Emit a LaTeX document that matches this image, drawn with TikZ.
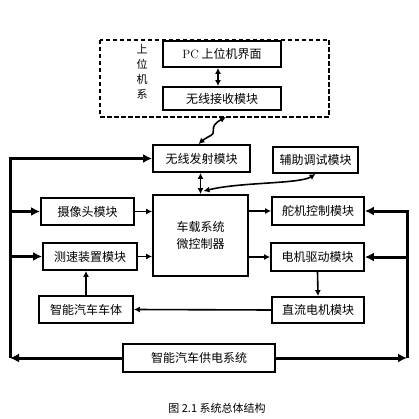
\documentclass[tikz,border=0pt]{standalone}
\usepackage{fontspec}
\newfontfamily\cjk{Noto Sans CJK SC}
\usetikzlibrary{arrows.meta}
\tikzset{
  box/.style={draw,line width=1.8pt,inner sep=0pt,font=\cjk\fontsize{12}{14}\selectfont},
  sig/.style={line width=1.6pt,-{Latex[length=6pt,width=6pt]}},
  sigboth/.style={line width=1.6pt,{Latex[length=6pt,width=6pt]}-{Latex[length=6pt,width=6pt]}},
  powarrow/.style={line width=3pt,-{Latex[length=9pt,width=9pt]}}
}
\begin{document}
\begin{tikzpicture}[x=1pt,y=-1pt]
  \useasboundingbox (0,0) rectangle (418,419);
  \draw[line width=1.8pt,dash pattern=on 4.5pt off 2.5pt] (100,40) rectangle (329,117);
  \node[font=\cjk\fontsize{11}{15}\selectfont,align=center] (hostname) at (142,72) {上\\位\\机\\系};
  \node[box,minimum width=118,minimum height=26] (pc) at (222,54) {{\rmfamily PC} 上位机界面};
  \node[box,minimum width=118,minimum height=23] (rx) at (222,98.5) {无线接收模块};
  \node[box,minimum width=97,minimum height=27] (tx) at (201.5,158.5) {无线发射模块};
  \node[box,minimum width=85,minimum height=26] (aux) at (315.5,160) {辅助调试模块};
  \node[box,minimum width=95,minimum height=81,align=center] (mcu) at (200.5,235.5) {车载系统\\[3pt]微控制器};
  \node[box,minimum width=93,minimum height=27] (cam) at (87.5,211.5) {摄像头模块};
  \node[box,minimum width=94,minimum height=27] (speed) at (90,256.5) {测速装置模块};
  \node[box,minimum width=94,minimum height=27] (body) at (86,309.5) {智能汽车车体};
  \node[box,minimum width=92,minimum height=28] (servo) at (318,211) {舵机控制模块};
  \node[box,minimum width=93,minimum height=28] (drive) at (317.5,257) {电机驱动模块};
  \node[box,minimum width=92,minimum height=26] (motor) at (318,310) {直流电机模块};
  \node[box,minimum width=152,minimum height=28] (power) at (199,358) {智能汽车供电系统};
  \node[font=\cjk\fontsize{11}{12}\selectfont] (caption) at (217,408) {图 2.1 系统总体结构};
  \coordinate (hostlink) at (226,117);
  \coordinate (lbot) at (10,358);
  \coordinate (rbot) at (407,358);
  \draw[sigboth] ([xshift=-4pt]pc.south) -- ([xshift=-4pt]rx.north);
  \draw[sigboth] (hostlink) .. controls (206,128) and (220,132) .. (208,137) .. controls (203,140) .. ([xshift=-3pt]tx.north);
  \draw[sigboth] ([xshift=-1pt]tx.south) -- ([xshift=-1pt]tx.south |- mcu.north);
  \draw[sigboth] ([xshift=3pt,yshift=3pt]mcu.north) .. controls (240,182) and (300,184) .. (aux.south);
  \draw[sig] (cam.east) -- (cam.east -| mcu.west);
  \draw[sig] (speed.east) -- (speed.east -| mcu.west);
  \draw[sig] (servo.west -| mcu.east) -- (servo.west);
  \draw[sig] (drive.west -| mcu.east) -- (drive.west);
  \draw[sig] (drive.south) -- (motor.north);
  \draw[sig] (body.north) -- (body.north |- speed.south);
  \draw[sig] (motor.west) -- (body.east);
  \draw[powarrow] (power.west) -- (lbot);
  \draw[powarrow] (lbot) -- (lbot |- tx.west) -- (tx.west);
  \draw[powarrow] (cam.west -| lbot) -- (cam.west);
  \draw[powarrow] (speed.west -| lbot) -- (speed.west);
  \draw[powarrow] (power.east) -- (rbot);
  \draw[powarrow] (rbot) -- (rbot |- servo.east) -- (servo.east);
  \draw[powarrow] (drive.east -| rbot) -- (drive.east);
\end{tikzpicture}
\end{document}
